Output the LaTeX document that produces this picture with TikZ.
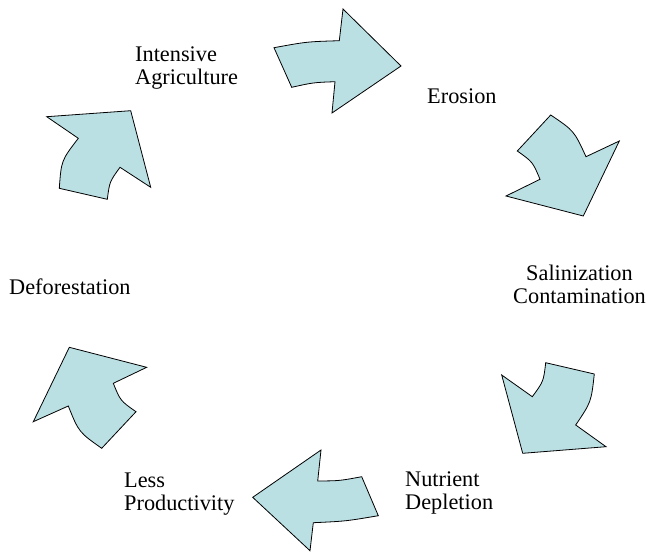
\documentclass[tikz,border=0pt]{standalone}
\usepackage{fontspec}
\setmainfont{Liberation Serif}
\usepackage{xcolor}
\usepackage{tikz}
\definecolor{arrowfill}{RGB}{186,224,228}

\begin{document}
\begin{tikzpicture}[x=1pt, y=-1pt,
    bigarrow/.style={draw=black, fill=arrowfill, line width=0.8pt, line join=miter},
    lbl/.style={font=\fontsize{22.3}{23}\selectfont, inner sep=0pt}]
    \useasboundingbox (0,0) rectangle (650,552);
    % labels
    \node[lbl, anchor=west, align=left] at (135,68) (agri) {Intensive\\Agriculture};
    \node[lbl, anchor=base west] at (427,103) (eros) {Erosion};
    \node[lbl, align=center] at (579.5,284) (sali) {Salinization\\Contamination};
    \node[lbl, anchor=west, align=left] at (405,493) (nutr) {Nutrient\\Depletion};
    \node[lbl, anchor=west, align=left] at (124,494) (prod) {Less\\Productivity};
    \node[lbl, anchor=base west] at (9,294) (defo) {Deforestation};
    % arrows
    \draw[bigarrow] (274,47.7) .. controls (306.7,41.7) .. (339.3,40.7) -- (343,9) -- (401,66)
        -- (332,113) -- (335,81.7) .. controls (313.3,82.5) .. (291.7,87.3) -- cycle;
    \draw[bigarrow] (550.7,115) .. controls (574.1,130.8) .. (586,156.7) -- (619.3,141) -- (583.3,216)
        -- (506,196) -- (540,179.3) .. controls (532.7,161.9) .. (517.3,151) -- cycle;
    \draw[bigarrow] (501.7,375) -- (532.3,396.7) .. controls (543.5,381.4) .. (545.7,362.7)
        -- (594.3,374) .. controls (591.2,402) .. (575.7,425) -- (606,446.7) -- (522.7,453.3) -- cycle;
    \draw[bigarrow] (252.7,497.3) -- (321,450) -- (317.7,481) .. controls (339.7,480.8) .. (361.7,476.7)
        -- (378.3,515.7) .. controls (345.8,521.2) .. (313.3,522.7) -- (310,550.7) -- cycle;
    \draw[bigarrow] (69.3,347.3) -- (146.7,367.3) -- (113.3,383.3) .. controls (120.4,400.8) .. (136,411.7)
        -- (101.7,448.3) .. controls (78.8,432.1) .. (68.3,406) -- (33.3,421.7) -- cycle;
    \draw[bigarrow] (46.7,116.7) -- (130.7,110.7) -- (150.7,187.3) -- (120,167.3) .. controls (109.6,181.7) .. (107.3,199.3)
        -- (59.3,188.3) .. controls (61.3,160.5) .. (78.3,138.3) -- cycle;
\end{tikzpicture}
\end{document}
